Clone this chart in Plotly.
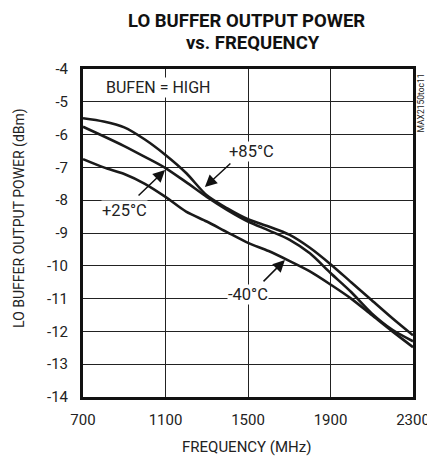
import plotly.graph_objects as go

freq = [700, 800, 900, 1000, 1100, 1200, 1300, 1400, 1500, 1600, 1700, 1800, 1900, 2000, 2100, 2200, 2300]
p85 = [-5.50, -5.60, -5.78, -6.15, -6.62, -7.17, -7.85, -8.25, -8.58, -8.80, -9.05, -9.45, -9.95, -10.50, -11.05, -11.60, -12.12]
p25 = [-5.76, -6.05, -6.35, -6.68, -7.02, -7.45, -7.90, -8.30, -8.65, -8.92, -9.20, -9.62, -10.22, -10.80, -11.45, -11.95, -12.30]
m40 = [-6.75, -7.00, -7.20, -7.50, -7.90, -8.35, -8.65, -8.98, -9.30, -9.55, -9.85, -10.17, -10.57, -11.00, -11.50, -12.00, -12.48]

x_ticks = [700, 1100, 1500, 1900, 2300]
y_ticks = [-4, -5, -6, -7, -8, -9, -10, -11, -12, -13, -14]

FONT = "Roboto, Liberation Sans, sans-serif"
TXT = "#222"

fig = go.Figure()
for name, ys in [("+85°C", p85), ("+25°C", p25), ("-40°C", m40)]:
    fig.add_trace(go.Scatter(x=freq, y=ys, mode="lines", name=name, hoverinfo="skip",
                             line=dict(color="#1a1a1a", width=2.6, shape="spline", smoothing=0.8)))

def pa(x, y, text, size, angle=0, color=TXT):
    return dict(x=x, y=y, xref="paper", yref="paper", text=text, showarrow=False,
                xanchor="center", yanchor="middle", textangle=angle,
                font=dict(size=size, family=FONT, color=color))

ann = []
# titles
ann.append(pa(0.495, 1.146, "<b>LO BUFFER OUTPUT POWER</b>", 18.5, color="#111"))
ann.append(pa(0.515, 1.079, "<b>vs. FREQUENCY</b>", 18.5, color="#111"))
# axis titles
ann.append(pa(0.495, -0.152, "FREQUENCY (MHz)", 15))
ann.append(pa(-0.192, 0.545, "LO BUFFER OUTPUT POWER (dBm)", 14, angle=-90))
ann.append(dict(x=1068, y=-4.56, text="BUFEN = HIGH", showarrow=False, bgcolor="white",
                xanchor="center", yanchor="middle",
                font=dict(size=16, color=TXT, family=FONT), borderpad=0))
# arrows
ann.append(dict(x=1291, y=-7.60, ax=1422, ay=-6.84, axref="x", ayref="y", text="", showarrow=True,
                arrowhead=2, arrowsize=1.6, arrowwidth=1.5, arrowcolor="#111"))
ann.append(dict(x=1098, y=-7.08, ax=962, ay=-7.90, axref="x", ayref="y", text="", showarrow=True,
                arrowhead=2, arrowsize=1.6, arrowwidth=1.5, arrowcolor="#111"))
ann.append(dict(x=1679, y=-9.82, ax=1568, ay=-10.52, axref="x", ayref="y", text="", showarrow=True,
                arrowhead=2, arrowsize=1.6, arrowwidth=1.5, arrowcolor="#111"))
for xv, yv, t in [(1515, -6.50, "+85°C"), (899, -8.30, "+25°C"), (1500, -10.86, "-40°C")]:
    ann.append(dict(x=xv, y=yv, text=t, showarrow=False, bgcolor="white",
                    xanchor="center", yanchor="middle",
                    font=dict(size=16.5, color=TXT, family=FONT), borderpad=0))
ann.append(dict(x=1.0, y=0.895, xref="paper", yref="paper", text="MAX2150toc11", showarrow=False,
                xanchor="center", yanchor="middle", textangle=-90, xshift=8,
                font=dict(size=8.5, family=FONT, color=TXT)))

fig.update_layout(
    width=427, height=461,
    margin=dict(l=83, r=14, t=69, b=64, autoexpand=False),
    paper_bgcolor="white", plot_bgcolor="white",
    showlegend=False, hovermode=False,
    font=dict(family=FONT, size=15, color=TXT),
    annotations=ann,
)
fig.update_xaxes(range=[700, 2300], tickvals=x_ticks, ticktext=[str(v) for v in x_ticks],
                 automargin=False, ticklabeloverflow="allow",
                 showgrid=True, gridcolor="#222", gridwidth=1, zeroline=False,
                 showline=True, linecolor="#111", linewidth=3, mirror=True,
                 ticks="outside", ticklen=7, tickcolor="rgba(0,0,0,0)",
                 tickfont=dict(size=15, family=FONT, color=TXT))
fig.update_yaxes(range=[-14, -4], tickvals=y_ticks, ticktext=[str(v) for v in y_ticks],
                 automargin=False,
                 showgrid=True, gridcolor="#222", gridwidth=1, zeroline=False,
                 showline=True, linecolor="#111", linewidth=3, mirror=True,
                 ticks="outside", ticklen=9, tickcolor="rgba(0,0,0,0)",
                 tickfont=dict(size=15, family=FONT, color=TXT))

fig.write_html("out.html", config={"displayModeBar": False, "staticPlot": True},
               post_script="document.body.style.margin='0';document.body.style.overflow='hidden';")
